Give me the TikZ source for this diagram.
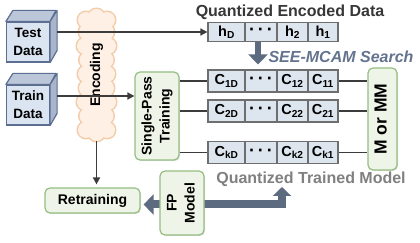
\documentclass[tikz,border=0pt]{standalone}
\usepackage{fontspec}
\setmainfont{Liberation Sans}
\usetikzlibrary{arrows.meta,shadows}
\definecolor{datafill}{RGB}{219,228,241}
\definecolor{dataedge}{RGB}{92,110,145}
\definecolor{cellfill}{RGB}{221,229,239}
\definecolor{celledge}{RGB}{110,110,110}
\definecolor{greenfill}{RGB}{238,245,232}
\definecolor{greenedge}{RGB}{150,190,130}
\definecolor{cloudfill}{RGB}{254,240,228}
\definecolor{cloudedge}{RGB}{243,204,170}
\definecolor{linkgray}{RGB}{60,60,60}
\definecolor{fatblue}{RGB}{93,107,128}
\definecolor{searchblue}{RGB}{100,116,142}
\definecolor{modelgray}{RGB}{128,128,128}
\definecolor{titlegray}{RGB}{55,55,55}

\newcommand{\sidelabel}[1]{\rotatebox{90}{\begin{tabular}{@{}c@{}}#1\end{tabular}}}
\newcommand{\dotsrow}{{\fontsize{18}{18}\selectfont ·\hspace{3pt}·\hspace{3pt}·}}

\tikzset{
  databox/.style={draw=dataedge, fill=datafill, line width=1.2pt, minimum width=43pt, minimum height=40pt,
    align=center, inner sep=0pt, font=\fontsize{13.5}{18}\selectfont\bfseries},
  greenbox/.style={draw=greenedge, fill=greenfill, line width=1.2pt, rounded corners=5pt, inner sep=0pt,
    drop shadow={shadow xshift=1pt, shadow yshift=-1pt, opacity=0.25}, font=\fontsize{14}{18}\selectfont\bfseries},
  cell/.style={draw=celledge, fill=cellfill, line width=1.2pt, minimum height=22pt, inner sep=0pt,
    drop shadow={shadow xshift=1pt, shadow yshift=-1pt, opacity=0.3}, font=\fontsize{14.5}{16}\selectfont\bfseries},
  link/.style={draw=linkgray, line width=1.6pt},
  linkarrow/.style={-{Triangle[width=7pt,length=7pt]}},
  fat/.style={draw=fatblue, line width=8pt},
}

\begin{document}
\begin{tikzpicture}[x=1pt, y=1pt]
  \fill[white] (0,0) rectangle (420,243);
  \useasboundingbox (0,0) rectangle (420,243);

  % input data
  \node[databox] (test) at (28,201) {Test\\Data};
  \node[databox] (train) at (28,138) {Train\\Data};
  \foreach \dat in {test,train} {
    \draw[dataedge, fill=datafill!75!dataedge, line width=1.2pt, line join=round]
      (\dat.north west) -- ++(7,11) -- ++(43,0) -- (\dat.north east) -- cycle;
    \draw[dataedge, fill=datafill!60!dataedge, line width=1.2pt, line join=round]
      (\dat.north east) -- ++(7,11) -- ++(0,-40) -- (\dat.south east) -- cycle;
  }

  % encoding cloud: outline pass, then fill pass
  \draw[cloudedge, line width=3pt]
    \foreach \cy/\dx in {113/0,127/1.5,141/-1,155/1,169/0,183/1.5,197/-1,211/1,223/0} {
      (86+\dx,\cy) circle (8) (107-\dx,\cy) circle (8)
    }
    (96.5,226) circle (8) (96.5,110) circle (8);
  \fill[cloudfill]
    \foreach \cy/\dx in {113/0,127/1.5,141/-1,155/1,169/0,183/1.5,197/-1,211/1,223/0} {
      (86+\dx,\cy) circle (8) (107-\dx,\cy) circle (8)
    }
    (96.5,226) circle (8) (96.5,110) circle (8);
  \fill[cloudfill] (86,110) rectangle (107,226);
  \node[minimum width=37pt, minimum height=131pt, inner sep=0pt,
    font=\fontsize{14}{18}\selectfont\bfseries] (enc) at (96.5,168) {\sidelabel{Encoding}};

  % training and models
  \node[greenbox, minimum width=44pt, minimum height=88pt] (spt) at (157,127) {\sidelabel{Single-Pass\\Training}};
  \node[greenbox, minimum width=29pt, minimum height=102pt, font=\fontsize{17.5}{20}\selectfont\bfseries]
    (mm) at (382.5,124) {\sidelabel{M or MM}};
  \node[greenbox, minimum width=95pt, minimum height=25pt] (retrain) at (92.5,42.5) {Retraining};

  % encoded query
  \node[font=\fontsize{16}{18}\selectfont\bfseries, text=titlegray] (qed) at (290,231) {Quantized Encoded Data};
  \node[cell, minimum height=19pt, minimum width=37pt] (hD) at (226.5,211) {h\textsubscript{D}};
  \node[cell, minimum height=19pt, minimum width=32pt] (hM) at (261,211) {\dotsrow};
  \node[cell, minimum height=19pt, minimum width=31pt] (h2) at (292.5,211) {h\textsubscript{2}};
  \node[cell, minimum height=19pt, minimum width=30pt] (h1) at (323,211) {h\textsubscript{1}};

  % trained rows
  \foreach \row/\ry in {1/162,2/132,k/90.5} {
    \node[cell, minimum width=37pt] (c\row D) at (226.5,\ry) {C\textsubscript{\row D}};
    \node[cell, minimum width=32pt] (c\row M) at (261,\ry) {\dotsrow};
    \node[cell, minimum width=31pt] (c\row B) at (292.5,\ry) {C\textsubscript{\row 2}};
    \node[cell, minimum width=30pt] (c\row A) at (323,\ry) {C\textsubscript{\row 1}};
    \draw[link] (c\row D.west -| spt.east) -- (c\row D.west);
    \draw[link] (c\row A.east) -- (c\row A.east -| mm.west);
  }

  \node[font=\fontsize{16}{18}\selectfont\bfseries\itshape, text=searchblue] (search) at (341,186) {SEE-MCAM Search};
  \node[font=\fontsize{16}{18}\selectfont\bfseries, text=modelgray] (qtm) at (311,64) {Quantized Trained Model};

  % connectors
  \draw[link, linkarrow] ([xshift=7pt,yshift=10pt]test.east) -- (hD.west);
  \draw[link, linkarrow] ([xshift=7pt,yshift=9pt]train.east) coordinate (tr) -- (tr -| spt.west);
  \draw[link, linkarrow, shorten >=3pt] (enc.south) -- (enc.south |- retrain.north);
  \draw[draw=fatblue, line width=6pt, -{Triangle[width=19pt,length=10pt]}]
    ([xshift=-3pt]hM.south) -- ([xshift=-3pt,yshift=5pt]c1M.north);

  \coordinate (bandup) at (282,56);
  \draw[fat, {Triangle[width=20pt,length=10pt]}-{Triangle[width=18pt,length=9pt]}]
    ([shift={(3pt,-4pt)}]retrain.east) -| (bandup);
  \node[greenbox, minimum width=44pt, minimum height=64pt] (fp) at (182,40) {\sidelabel{FP\\Model}};
\end{tikzpicture}
\end{document}
